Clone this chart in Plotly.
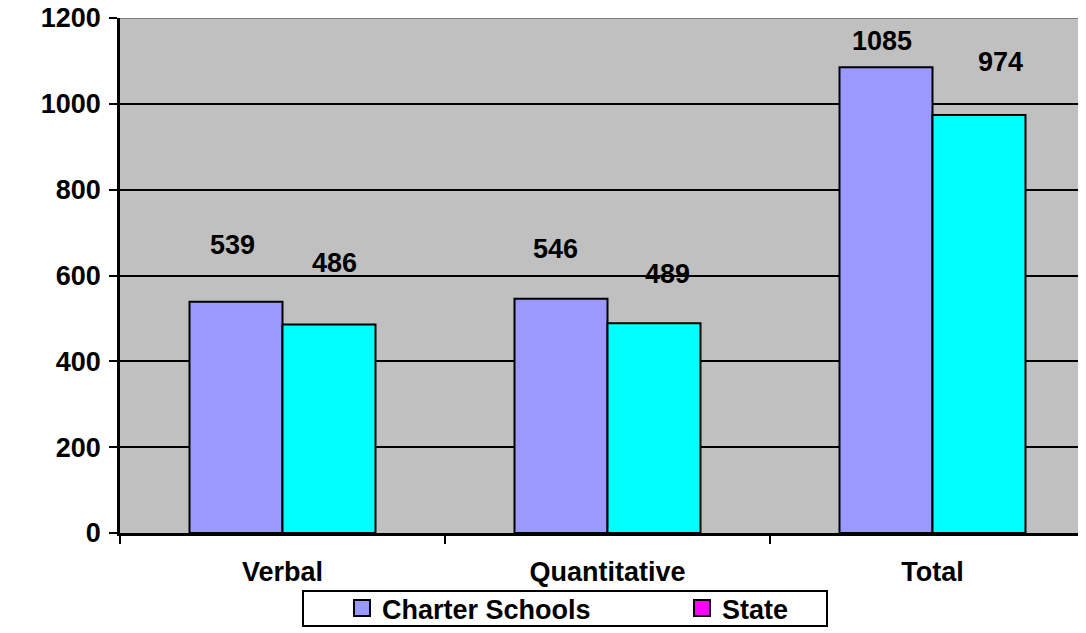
import plotly.graph_objects as go

# ---- data ----
categories = ["Verbal", "Quantitative", "Total"]
charter = [539, 546, 1085]
state = [486, 489, 974]
series_names = ["Charter Schools", "State"]
y_ticks = [0, 200, 400, 600, 800, 1000, 1200]

# ---- style ----
FONT = "Liberation Sans, Arial, sans-serif"
FS = 27
PAGE_OFF = 8  # default body margin of the html page
W, H = 1086, 633
ML, MT = 120 - PAGE_OFF, 18 - PAGE_OFF
MB = H - (533 - PAGE_OFF)
MR = 0
PW, PH = W - ML - MR, H - MT - MB
CAT_PX = 325.0
BAR_PX = 93.0
charter_color = "#9999FF"
state_color = "#00FFFF"
state_legend_color = "#FF00FF"
# manually placed data labels in the original: pixel offsets (dx, dy)
charter_label_offsets = [(-4, 57), (-6, 50), (-4, 26)]
state_label_offsets = [(5, 61), (13, 49), (21, 53)]

fig = go.Figure()
fig.add_trace(go.Bar(x=categories, y=charter, name=series_names[0], showlegend=False,
                     marker=dict(color=charter_color, line=dict(color="black", width=2))))
fig.add_trace(go.Bar(x=categories, y=state, name=series_names[1], showlegend=False,
                     marker=dict(color=state_color, line=dict(color="black", width=2))))
# legend entries (the original legend shows State in magenta)
fig.add_trace(go.Scatter(x=[None], y=[None], mode="markers", name=series_names[0],
                         marker=dict(symbol="square", size=16, color=charter_color,
                                     line=dict(color="black", width=2))))
fig.add_trace(go.Scatter(x=[None], y=[None], mode="markers", name=series_names[1],
                         marker=dict(symbol="square", size=16, color=state_legend_color,
                                     line=dict(color="black", width=2))))

annotations = []
for cat, v, (dx, dy) in zip(categories, charter, charter_label_offsets):
    annotations.append(dict(x=cat, y=v, xref="x", yref="y", text=str(v), showarrow=False,
                            xshift=-BAR_PX / 2 + dx, yshift=dy, yanchor="middle",
                            font=dict(family=FONT, size=FS, color="black", weight="bold")))
for cat, v, (dx, dy) in zip(categories, state, state_label_offsets):
    annotations.append(dict(x=cat, y=v, xref="x", yref="y", text=str(v), showarrow=False,
                            xshift=BAR_PX / 2 + dx, yshift=dy, yanchor="middle",
                            font=dict(family=FONT, size=FS, color="black", weight="bold")))

def px_to_paper_x(px):
    # px given in page coordinates
    return (px - PAGE_OFF - ML) / PW

def px_to_paper_y(py):
    return (H - MB - (py - PAGE_OFF)) / PH

shapes = [
    dict(type="line", xref="paper", yref="y", x0=0, x1=1, y0=1200, y1=1200,
         line=dict(color="#808080", width=2), layer="above"),
    dict(type="rect", xref="paper", yref="paper",
         x0=px_to_paper_x(303), x1=px_to_paper_x(827),
         y0=px_to_paper_y(626), y1=px_to_paper_y(591),
         line=dict(color="black", width=2), fillcolor="white", layer="below"),
]

fig.update_layout(
    width=W, height=H,
    margin=dict(l=ML, r=MR, t=MT, b=MB, autoexpand=False),
    paper_bgcolor="white",
    plot_bgcolor="#C0C0C0",
    barmode="group",
    bargap=1 - 2 * BAR_PX / CAT_PX,
    bargroupgap=0,
    font=dict(family=FONT, size=FS, color="black", weight="bold"),
    xaxis=dict(type="category", range=[-0.5, -0.5 + PW / CAT_PX],
               tickson="boundaries", ticks="outside", ticklen=8, tickwidth=2, tickcolor="black",
               showline=True, linecolor="black", linewidth=2.5, showgrid=False,
               ticklabelstandoff=13, ticklabeloverflow="allow",
               tickfont=dict(family=FONT, size=FS, color="black", weight="bold")),
    yaxis=dict(range=[0, 1200], tickvals=y_ticks, ticks="outside", ticklen=8, tickwidth=2,
               tickcolor="black", showline=True, linecolor="black", linewidth=2.5,
               showgrid=True, gridcolor="black", gridwidth=1.5, zeroline=False,
               ticklabelstandoff=3, ticklabeloverflow="allow",
               tickfont=dict(family=FONT, size=FS, color="black", weight="bold")),
    legend=dict(orientation="h", x=px_to_paper_x(342), xanchor="left",
                y=px_to_paper_y(608.5), yanchor="middle", bgcolor="rgba(0,0,0,0)",
                borderwidth=0, entrywidth=295, entrywidthmode="pixels",
                font=dict(family=FONT, size=FS, color="black", weight="bold")),
    annotations=annotations,
    shapes=shapes,
)

fig.write_html("out.html")
